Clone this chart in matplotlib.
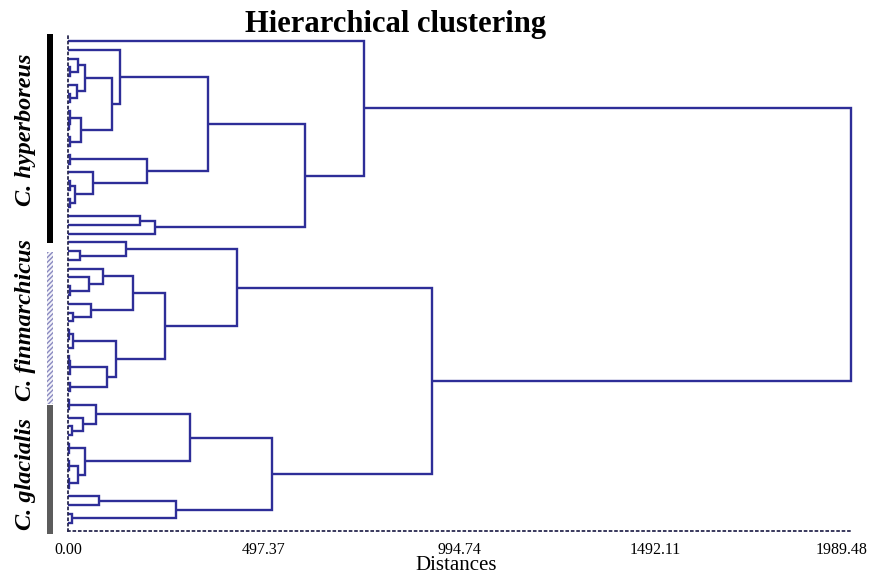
import matplotlib
matplotlib.use("Agg")
import matplotlib.pyplot as plt
from matplotlib.patches import Rectangle
from matplotlib.transforms import ScaledTranslation

plt.rcParams["font.family"] = ["Liberation Serif", "DejaVu Serif"]
plt.rcParams["hatch.linewidth"] = 1.0

# leaves are numbered 0..55 from top to bottom
n_leaves = 56

# merges: (node, left child, right child, distance); ints are leaves
hyperboreus_merges = [
    ("a1", 3, 4, 4),
    ("a2", 2, "a1", 25),
    ("a3", 6, 7, 4),
    ("a4", 5, "a3", 23),
    ("a5", "a2", "a4", 43),
    ("a6", 9, 10, 3),
    ("a7", 8, "a6", 5),
    ("a8", 11, 12, 4),
    ("a9", "a7", "a8", 33),
    ("a10", "a5", "a9", 112),
    ("a11", 1, "a10", 132),
    ("a12", 13, 14, 5),
    ("a13", 16, 17, 4),
    ("a14", 18, 19, 4),
    ("a15", "a13", "a14", 18),
    ("a16", 15, "a15", 64),
    ("a17", "a12", "a16", 201),
    ("a18", "a11", "a17", 356),
    ("a19", 20, 21, 183),
    ("a20", "a19", 22, 221),
    ("a21", "a18", "a20", 602),
    ("a22", 0, "a21", 752),
]

finmarchicus_merges = [
    ("b1", 24, 25, 30),
    ("b2", 23, "b1", 147),
    ("b3", 28, 29, 5),
    ("b4", 27, "b3", 53),
    ("b5", 26, "b4", 89),
    ("b6", 31, 32, 13),
    ("b7", 30, "b6", 58),
    ("b8", "b5", "b7", 165),
    ("b9", 33, 34, 3),
    ("b10", "b9", 35, 13),
    ("b11", 36, 37, 3),
    ("b12", "b11", 38, 6),
    ("b13", 39, 40, 4),
    ("b14", "b12", "b13", 99),
    ("b15", "b10", "b14", 122),
    ("b16", "b8", "b15", 246),
    ("b17", "b2", "b16", 429),
]

glacialis_merges = [
    ("c1", 41, 42, 2),
    ("c2", 44, 45, 10),
    ("c3", 43, "c2", 38),
    ("c4", "c1", "c3", 71),
    ("c5", 46, 47, 3),
    ("c6", 48, 49, 3),
    ("c7", 50, 51, 3),
    ("c8", "c6", "c7", 25),
    ("c9", "c5", "c8", 43),
    ("c10", "c4", "c9", 310),
    ("c11", 52, 53, 79),
    ("c12", 54, 55, 10),
    ("c13", "c11", "c12", 274),
    ("c14", "c10", "c13", 518),
]

top_merges = [
    ("c15", "b17", "c14", 925),
    ("root", "a22", "c15", 1989.48),
]

tick_values = [0.00, 497.37, 994.74, 1492.11, 1989.48]

species = ["C. hyperboreus", "C. finmarchicus", "C. glacialis"]

LINE = "#2e2e98"
W, H = 871, 576

fig = plt.figure(figsize=(W / 100, H / 100), dpi=100)
fig.patch.set_facecolor("white")

ax = fig.add_axes([68 / W, (H - 531) / H, (851 - 68) / W, (531 - 36) / H])
ax.set_xlim(0, 1989.48)
ax.set_ylim(55.94, -0.57)

pos = {}


def where(child):
    if isinstance(child, int):
        return 0.0, float(child)
    return pos[child]


for name, a, b, h in hyperboreus_merges + finmarchicus_merges + glacialis_merges + top_merges:
    xa, ya = where(a)
    xb, yb = where(b)
    ax.plot([xa, h, h, xb], [ya, ya, yb, yb], color=LINE, lw=1.7,
            solid_joinstyle="miter", solid_capstyle="butt", clip_on=False)
    pos[name] = (h, (ya + yb) / 2)

for side in ["top", "right"]:
    ax.spines[side].set_visible(False)
for side in ["left", "bottom"]:
    ax.spines[side].set_linestyle((0, (1, 2)))
    ax.spines[side].set_linewidth(1.3)
    ax.spines[side].set_color("#2a2a50")

ax.set_yticks([])
ax.set_xticks(tick_values)
ax.set_xticklabels([f"{v:.2f}" for v in tick_values], fontsize=11.5)
ax.tick_params(axis="x", length=0, pad=8)

# keep the last distance label inside the figure
last = ax.get_xticklabels()[-1]
last.set_transform(last.get_transform() + ScaledTranslation(-9 / 100, 0, fig.dpi_scale_trans))

# overlay in pixel units for title, group bars and labels
ov = fig.add_axes([0, 0, 1, 1])
ov.set_xlim(0, W)
ov.set_ylim(H, 0)
ov.axis("off")
ov.patch.set_alpha(0)

ov.add_patch(Rectangle((47, 34), 6, 209, facecolor="black", lw=0))
ov.add_patch(Rectangle((47, 252), 6, 152, facecolor="#f4f4fa", hatch="///////",
                       edgecolor="#8a8ac0", lw=0))
ov.add_patch(Rectangle((47, 405), 6, 129, facecolor="#5c5c5c", lw=0))

label_y = [130, 320, 474]
for text, y in zip(species, label_y):
    ov.text(26, y, text, rotation=90, ha="center", va="center", fontsize=17.5,
            weight="bold", style="italic")

ov.text(395, 32, "Hierarchical clustering", ha="center", va="baseline",
        fontsize=22, weight="bold")
ov.text(456, 566, "Distances", ha="center", va="center", fontsize=15)

fig.savefig("out.png", dpi=100)
